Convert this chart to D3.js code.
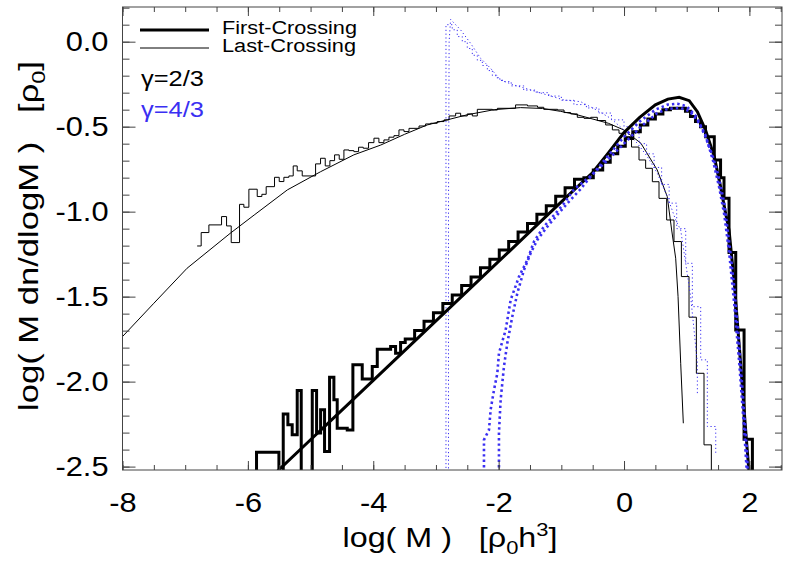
<!DOCTYPE html>
<html>
<head>
<meta charset="utf-8">
<script src="https://cdn.jsdelivr.net/npm/d3@7/dist/d3.min.js"></script>
<style>
  body { margin: 0; background: #fff; }
  text { font-family: "Liberation Sans", Arial, Helvetica, sans-serif; white-space: pre; }
</style>
</head>
<body>
<div id="chart-area"></div>
<script>
// tick values
const xMajor = [-8, -6, -4, -2, 0, 2];
const yMajor = [0, -0.5, -1, -1.5, -2, -2.5];

// gamma = 2/3, last crossing, analytic  [logM, value]
const lcCurve23 = [[-8,-1.735],[-7.5,-1.539],[-6.97,-1.333],[-6.28,-1.127],[-5.9,-1.02],[-5.37,-0.872],
  [-4.84,-0.765],[-4.31,-0.666],[-3.88,-0.608],[-3.5,-0.545],[-3.14,-0.49],[-2.82,-0.46],[-2.5,-0.43],
  [-2.07,-0.40],[-1.65,-0.388],[-1.3,-0.393],[-1.01,-0.41],[-0.75,-0.43],[-0.53,-0.452],[-0.25,-0.48],
  [0,-0.52],[0.27,-0.598],[0.53,-0.755],[0.69,-0.912],[0.76,-1.108],[0.824,-1.274],[0.862,-1.5],
  [0.904,-1.892],[0.946,-2.245]];

// gamma = 2/3, last crossing, simulation histogram  [bin start, value]
const lcHist23 = [[-6.809,-1.202],[-6.745,-1.123],[-6.622,-1.078],[-6.42,-1.029],[-6.34,-1.084],[-6.266,-1.182],
  [-6.133,-0.957],[-6.064,-0.974],[-5.984,-0.868],[-5.851,-0.911],[-5.777,-0.898],[-5.708,-0.853],[-5.575,-0.798],
  [-5.5,-0.823],[-5.426,-0.798],[-5.346,-0.79],[-5.277,-0.731],[-5.213,-0.76],[-5.133,-0.79],[-4.92,-0.719],
  [-4.841,-0.686],[-4.766,-0.731],[-4.692,-0.70],[-4.617,-0.666],[-4.543,-0.692],[-4.468,-0.637],[-4.388,-0.641],
  [-4.309,-0.647],[-4.234,-0.621],[-4.16,-0.627],[-4.075,-0.594],[-3.989,-0.568],[-3.91,-0.594],[-3.83,-0.578],
  [-3.75,-0.562],[-3.67,-0.553],[-3.59,-0.519],[-3.51,-0.529],[-3.43,-0.51],[-3.27,-0.496],[-3.165,-0.484],
  [-3.085,-0.48],[-2.98,-0.47],[-2.87,-0.46],[-2.79,-0.437],[-2.686,-0.421],[-2.606,-0.437],[-2.5,-0.425],
  [-2.42,-0.437],[-2.34,-0.398],[-2.10,-0.402],[-2.02,-0.392],[-1.73,-0.372],[-1.54,-0.378],[-1.38,-0.386],
  [-1.28,-0.398],[-1.06,-0.402],[-0.957,-0.417],[-0.851,-0.425],[-0.745,-0.445],[-0.638,-0.451],[-0.532,-0.445],
  [-0.426,-0.464],[-0.293,-0.49],[-0.186,-0.519],[-0.08,-0.539],[0.027,-0.559],[0.12,-0.62],[0.239,-0.696],
  [0.345,-0.745],[0.452,-0.824],[0.558,-0.922],[0.68,-1.049],[0.797,-1.176],[0.915,-1.382],[1.037,-1.621],
  [1.154,-1.951],[1.276,-2.372],[1.393,-3]];
const lcHist23End = 1.45;

// gamma = 2/3, first crossing, analytic
const fcCurve23 = [[-5.6,-2.552],[-5.0,-2.342],[-4.5,-2.168],[-4.0,-1.993],[-3.5,-1.818],[-3.0,-1.643],
  [-2.5,-1.468],[-2.0,-1.293],[-1.5,-1.118],[-1.0,-0.943],[-0.5,-0.77],[-0.25,-0.655],[0,-0.535],[0.25,-0.445],
  [0.5,-0.372],[0.7,-0.338],[0.88,-0.327],[1.04,-0.347],[1.17,-0.412],[1.3,-0.52],[1.44,-0.676],[1.54,-0.853],
  [1.62,-1.01],[1.675,-1.108],[1.755,-1.402],[1.86,-1.892],[1.94,-2.284],[2.0,-2.56]];

// gamma = 2/3, first crossing, simulation histogram
const fcHist23 = [[-5.95,-3],[-5.862,-2.415],[-5.505,-3],[-5.436,-2.19],[-5.362,-2.254],[-5.293,-2.313],
  [-5.213,-2.052],[-5.149,-3],[-4.973,-2.052],[-4.904,-2.303],[-4.84,-2.166],[-4.777,-2.411],[-4.697,-1.974],
  [-4.628,-2.107],[-4.575,-2.274],[-4.415,-2.284],[-4.325,-1.901],[-4.176,-1.984],[-4.016,-1.911],[-3.936,-1.809],
  [-3.723,-1.793],[-3.644,-1.833],[-3.564,-1.77],[-3.49,-1.75],[-3.34,-1.70],[-3.19,-1.645],[-3.04,-1.595],
  [-2.89,-1.54],[-2.74,-1.49],[-2.59,-1.435],[-2.44,-1.385],[-2.29,-1.33],[-2.14,-1.28],[-1.99,-1.225],
  [-1.84,-1.175],[-1.69,-1.12],[-1.54,-1.07],[-1.39,-1.015],[-1.24,-0.965],[-1.09,-0.91],[-0.94,-0.86],
  [-0.79,-0.81],[-0.64,-0.80],[-0.49,-0.755],[-0.34,-0.71],[-0.22,-0.66],[-0.1,-0.615],[0.02,-0.57],
  [0.14,-0.53],[0.26,-0.49],[0.38,-0.455],[0.5,-0.425],[0.62,-0.40],[0.74,-0.392],[0.98,-0.41],[1.06,-0.44],
  [1.14,-0.47],[1.22,-0.50],[1.30,-0.559],[1.44,-0.696],[1.54,-0.80],[1.595,-0.921],[1.675,-1.241],
  [1.782,-1.696],[1.915,-2.339],[2.048,-3]];
const fcHist23End = 2.1;

// gamma = 4/3, first crossing, simulation and analytic
const fcHist43 = [[-2.234,-2.6],[-2.234,-2.343],[-2.154,-2.284],[-2.128,-2.166],[-2.074,-2.049],[-2.021,-1.951],
  [-1.995,-1.833],[-1.888,-1.696],[-1.808,-1.519],[-1.675,-1.382],[-1.542,-1.284],[-1.436,-1.176],[-1.277,-1.088],
  [-1.09,-1.009],[-0.957,-0.951],[-0.8,-0.87],[-0.53,-0.79],[-0.27,-0.70],[0,-0.6],[0.27,-0.5],[0.53,-0.42],
  [0.7,-0.395],[0.9,-0.39],[1.05,-0.41],[1.2,-0.48],[1.3,-0.56],[1.42,-0.68],[1.5,-0.78],[1.6,-0.95],
  [1.7,-1.25],[1.76,-1.45],[1.83,-1.75],[1.9,-2.1],[1.96,-2.4],[1.98,-2.6]];
const fcCurve43 = [[-1.995,-2.6],[-1.995,-2.3],[-1.968,-2.107],[-1.915,-1.911],[-1.862,-1.774],[-1.782,-1.617],
  [-1.702,-1.48],[-1.596,-1.343],[-1.49,-1.245],[-1.383,-1.166],[-1.223,-1.088],[-1.064,-1.019],[-0.904,-0.951],
  [-0.7,-0.87],[-0.5,-0.78],[-0.25,-0.67],[0,-0.56],[0.25,-0.47],[0.5,-0.40],[0.7,-0.37],[0.85,-0.365],
  [1.0,-0.38],[1.15,-0.44],[1.3,-0.55],[1.42,-0.70],[1.52,-0.86],[1.6,-1.02],[1.68,-1.25],[1.76,-1.55],
  [1.84,-1.9],[1.92,-2.3],[1.97,-2.6]];

// gamma = 4/3, last crossing, analytic and simulation histogram
const lcCurve43 = [[-2.80,-2.6],[-2.80,-1.0],[-2.79,0.0],[-2.766,0.131],[-2.606,0.069],[-2.447,-0.010],
  [-2.287,-0.098],[-2.128,-0.157],[-1.968,-0.226],[-1.755,-0.255],[-1.489,-0.284],[-1.223,-0.314],[-0.957,-0.343],
  [-0.692,-0.353],[-0.45,-0.40],[-0.213,-0.451],[0.0,-0.52],[0.212,-0.598],[0.372,-0.676],[0.532,-0.775],
  [0.691,-0.912],[0.824,-1.049],[0.904,-1.108],[0.984,-1.304],[1.063,-1.5],[1.117,-1.696],[1.17,-1.892],[1.17,-2.07]];
const lcHist43 = [[-2.84,-3],[-2.84,0.10],[-2.74,0.07],[-2.66,0.03],[-2.58,0.0],[-2.50,-0.04],[-2.42,-0.08],
  [-2.34,-0.11],[-2.26,-0.14],[-2.18,-0.17],[-2.10,-0.20],[-2.02,-0.22],[-1.94,-0.235],[-1.80,-0.26],
  [-1.6,-0.285],[-1.4,-0.30],[-1.2,-0.32],[-1.0,-0.345],[-0.8,-0.37],[-0.6,-0.39],[-0.4,-0.42],[-0.2,-0.46],
  [0.0,-0.50],[0.12,-0.54],[0.24,-0.60],[0.36,-0.66],[0.48,-0.74],[0.6,-0.84],[0.72,-0.95],[0.84,-1.10],
  [0.984,-1.304],[1.09,-1.559],[1.223,-1.872],[1.329,-2.264],[1.463,-2.42]];
const lcHist43End = 1.463;

const blue = '#3a2ff2';
const width = 789, height = 561;
const plot = { left: 122.5, right: 782, top: 7, bottom: 470 };

const svg = d3.select('#chart-area')
    .append('svg')
    .attr('width', width)
    .attr('height', height);

const x = d3.scaleLinear().domain([-8, 2.52]).range([plot.left, plot.right]);
const y = d3.scaleLinear().domain([-2.52, 0.204]).range([plot.bottom, plot.top]);

svg.append('clipPath').attr('id', 'clip')
    .append('rect')
    .attr('x', plot.left).attr('y', plot.top)
    .attr('width', plot.right - plot.left).attr('height', plot.bottom - plot.top);

const g = svg.append('g').attr('clip-path', 'url(#clip)');

const smooth = d3.line().x(d => x(d[0])).y(d => y(d[1]));
const steps = d3.line().x(d => x(d[0])).y(d => y(d[1])).curve(d3.curveStepAfter);
const withEnd = (h, end) => h.concat([[end, h[h.length - 1][1]]]);

function draw(path, d, color, w, dash) {
    g.append('path')
        .attr('d', path(d))
        .attr('fill', 'none')
        .attr('stroke', color)
        .attr('stroke-width', w)
        .attr('stroke-dasharray', dash || null)
        .attr('stroke-linejoin', 'miter');
}

draw(smooth, lcCurve23, '#000', 1);
draw(steps, withEnd(lcHist23, lcHist23End), '#000', 1);
draw(smooth, lcCurve43, blue, 1, '1.2,2.6');
draw(steps, withEnd(lcHist43, lcHist43End), blue, 1, '1.2,2.6');
draw(smooth, fcCurve23, '#000', 3);
draw(steps, withEnd(fcHist23, fcHist23End), '#000', 3);
draw(smooth, fcCurve43, blue, 2.6, '2.4,3');
draw(smooth, fcHist43, blue, 2.6, '2.4,3');

// axes
const xMinor = d3.range(-8, 2.51, 0.5);
const yMinor = d3.range(-25, 3).map(d => d / 10);

const axisG = svg.append('g').attr('class', 'axes');
axisG.append('g').attr('transform', 'translate(0,' + plot.bottom + ')')
    .call(d3.axisBottom(x).tickValues(xMinor).tickSize(-5).tickFormat(''));
axisG.append('g').attr('transform', 'translate(0,' + plot.bottom + ')')
    .call(d3.axisBottom(x).tickValues(xMajor).tickSize(-9).tickPadding(22).tickFormat(d => String(d)));
axisG.append('g').attr('transform', 'translate(0,' + plot.top + ')')
    .call(d3.axisTop(x).tickValues(xMinor).tickSize(-5).tickFormat(''));
axisG.append('g').attr('transform', 'translate(0,' + plot.top + ')')
    .call(d3.axisTop(x).tickValues(xMajor).tickSize(-9).tickFormat(''));
axisG.append('g').attr('transform', 'translate(' + plot.left + ',0)')
    .call(d3.axisLeft(y).tickValues(yMinor).tickSize(-7).tickFormat(''));
axisG.append('g').attr('transform', 'translate(' + plot.left + ',0)')
    .call(d3.axisLeft(y).tickValues(yMajor).tickSize(-13).tickPadding(14).tickFormat(d => d.toFixed(1)));
axisG.append('g').attr('transform', 'translate(' + plot.right + ',0)')
    .call(d3.axisRight(y).tickValues(yMinor).tickSize(-7).tickFormat(''));
axisG.append('g').attr('transform', 'translate(' + plot.right + ',0)')
    .call(d3.axisRight(y).tickValues(yMajor).tickSize(-13).tickFormat(''));

axisG.selectAll('.domain').remove();
axisG.selectAll('line').attr('stroke', '#444');
axisG.selectAll('text').attr('font-size', 28).attr('fill', '#000')
    .attr('font-family', '"Liberation Sans", Arial, Helvetica, sans-serif')
    .each(function () {
        // the original lettering is a little wider than Liberation Sans
        const len = this.getComputedTextLength();
        if (len > 0) {
            d3.select(this).attr('textLength', len * 1.1).attr('lengthAdjust', 'spacingAndGlyphs');
        }
    });

svg.append('rect')
    .attr('x', plot.left).attr('y', plot.top)
    .attr('width', plot.right - plot.left).attr('height', plot.bottom - plot.top)
    .attr('fill', 'none').attr('stroke', '#444').attr('stroke-width', 1);

// axis titles
const xTitle = svg.append('text')
    .attr('x', 450).attr('y', 547)
    .attr('text-anchor', 'middle')
    .attr('font-size', 28)
    .attr('textLength', 215).attr('lengthAdjust', 'spacingAndGlyphs');
xTitle.append('tspan').text('log( M )   [\u03c1');
xTitle.append('tspan').attr('font-size', 19).attr('dy', 7).text('0');
xTitle.append('tspan').attr('dy', -7).text('h');
xTitle.append('tspan').attr('font-size', 19).attr('dy', -11).text('3');
xTitle.append('tspan').attr('dy', 11).text(']');

const yTitle = svg.append('text')
    .attr('transform', 'translate(38,236) rotate(-90)')
    .attr('text-anchor', 'middle')
    .attr('font-size', 28)
    .attr('textLength', 350).attr('lengthAdjust', 'spacingAndGlyphs');
yTitle.append('tspan').text('log( M dn/dlogM )   [\u03c1');
yTitle.append('tspan').attr('font-size', 19).attr('dy', 7).text('0');
yTitle.append('tspan').attr('dy', -7).text(']');

// legend
const legend = svg.append('g');
legend.append('line').attr('x1', 140).attr('x2', 209).attr('y1', 30).attr('y2', 30)
    .attr('stroke', '#000').attr('stroke-width', 3);
legend.append('line').attr('x1', 140).attr('x2', 209).attr('y1', 48).attr('y2', 48)
    .attr('stroke', '#000').attr('stroke-width', 1);
legend.append('text').attr('x', 222).attr('y', 33.5).attr('font-size', 18)
    .attr('textLength', 135).attr('lengthAdjust', 'spacingAndGlyphs').text('First-Crossing');
legend.append('text').attr('x', 222).attr('y', 52).attr('font-size', 18)
    .attr('textLength', 134).attr('lengthAdjust', 'spacingAndGlyphs').text('Last-Crossing');
legend.append('text').attr('x', 141).attr('y', 86).attr('font-size', 22)
    .attr('textLength', 63).attr('lengthAdjust', 'spacingAndGlyphs').text('\u03b3=2/3');
legend.append('text').attr('x', 141).attr('y', 117).attr('font-size', 22).attr('fill', blue)
    .attr('textLength', 63).attr('lengthAdjust', 'spacingAndGlyphs').text('\u03b3=4/3');
</script>
</body>
</html>
